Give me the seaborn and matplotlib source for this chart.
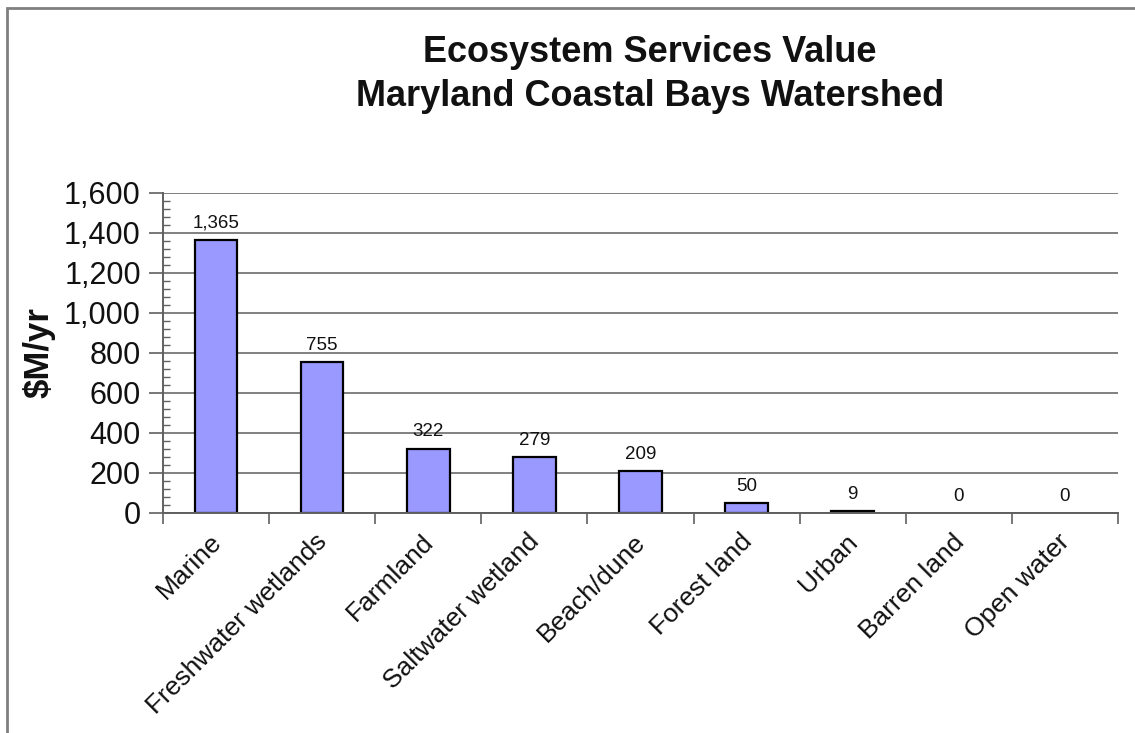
import matplotlib
matplotlib.use("Agg")
import matplotlib.pyplot as plt
from matplotlib.patches import Rectangle
from matplotlib.ticker import MultipleLocator, FuncFormatter
from matplotlib.transforms import ScaledTranslation
import seaborn as sns
import pandas as pd

# Ecosystem service value by land cover type ($M/yr)
categories = ["Marine", "Freshwater wetlands", "Farmland", "Saltwater wetland",
              "Beach/dune", "Forest land", "Urban", "Barren land", "Open water"]
values = [1365, 755, 322, 279, 209, 50, 9, 0, 0]
y_ticks = [0, 200, 400, 600, 800, 1000, 1200, 1400, 1600]

df = pd.DataFrame({"category": categories, "value": values})

sns.set_theme(style="white")
plt.rcParams["font.family"] = ["Liberation Sans", "DejaVu Sans"]

W, H = 1135, 733
fig = plt.figure(figsize=(W / 100, H / 100), dpi=100)
ax = fig.add_axes([163 / W, 1 - 513 / H, (1118 - 163) / W, (513 - 193) / H])

sns.barplot(data=df, x="category", y="value", order=categories, color="#9999FF",
            width=0.4, edgecolor="black", linewidth=1.6, saturation=1, ax=ax)

for patch, v in zip(ax.patches, values):
    if v == 0:
        patch.set_linewidth(0)

ax.set_ylim(0, 1600)
ax.set_xlim(-0.5, len(categories) - 0.5)
ax.set_yticks(y_ticks)
ax.yaxis.set_major_formatter(FuncFormatter(lambda v, p: f"{v:,.0f}"))
ax.yaxis.set_minor_locator(MultipleLocator(40))

ax.grid(axis="y", which="major", color="#808080", linewidth=1.4)
ax.set_axisbelow(True)

for side in ["top", "right"]:
    ax.spines[side].set_visible(False)
for side in ["left", "bottom"]:
    ax.spines[side].set_color("#606060")
    ax.spines[side].set_linewidth(1.4)

ax.tick_params(axis="y", which="major", direction="out", length=10, width=1.2,
               color="#606060", labelsize=22, pad=6, left=True, labelcolor="#111111")
ax.tick_params(axis="y", which="minor", direction="in", length=5, width=1.0,
               color="#606060", left=True)

# category ticks sit on the boundaries between bars
ax.set_xticks([i + 0.5 for i in range(-1, len(categories))], minor=True)
ax.tick_params(axis="x", which="minor", direction="out", length=8, width=1.2,
               color="#606060", bottom=True)
ax.tick_params(axis="x", which="major", length=0, labelsize=19, pad=12,
               labelcolor="#111111")
ax.set_xticks(range(len(categories)))
ax.set_xticklabels(categories, rotation=45, ha="right", rotation_mode="anchor")
shift = ScaledTranslation(-7 / 100, 0, fig.dpi_scale_trans)
for lbl in ax.get_xticklabels():
    lbl.set_transform(lbl.get_transform() + shift)

ax.set_xlabel("")
ax.set_ylabel("$M/yr", fontsize=25, fontweight="bold", color="#111111")
ax.yaxis.set_label_coords(-0.113, 0.5)

for patch, v in zip(ax.patches, values):
    ax.annotate(f"{v:,.0f}", (patch.get_x() + patch.get_width() / 2, v),
                xytext=(0, 6), textcoords="offset points",
                ha="center", va="bottom", fontsize=13.5, color="#111111")

fig.text(650 / W, 1 - 53 / H, "Ecosystem Services Value", ha="center", va="center",
         fontsize=26, fontweight="bold", color="#111111")
fig.text(650 / W, 1 - 96 / H, "Maryland Coastal Bays Watershed", ha="center",
         va="center", fontsize=26, fontweight="bold", color="#111111")

# chart frame
fig.patches.append(Rectangle((7 / W, -0.1), 1.2, 1 - 8 / H + 0.1,
                             transform=fig.transFigure, fill=False,
                             edgecolor="#808080", linewidth=2))

fig.savefig("out.png", dpi=100)
